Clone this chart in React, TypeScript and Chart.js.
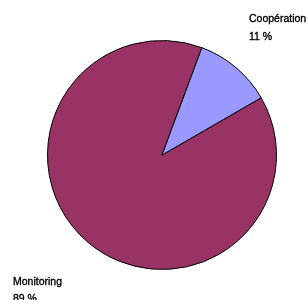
import React, { useEffect, useRef } from "react";
import { Chart, registerables } from "chart.js";

Chart.register(...registerables);

const categories = ["Monitoring", "Coopération"];
const values = [89, 11];
const percentLabels = ["89 %", "11 %"];
const colors = ["#993366", "#9999FF"];

const labelPlugin = {
  id: "sliceLabels",
  afterDraw(chart: any) {
    const ctx = chart.ctx;
    ctx.save();
    ctx.fillStyle = "#000";
    ctx.strokeStyle = "#000";
    ctx.lineWidth = 0.35;
    ctx.font = "10.5px 'Liberation Sans', Arial, sans-serif";
    ctx.textBaseline = "alphabetic";
    ctx.textAlign = "left";
    const draw = (t: string, x: number, y: number) => {
      ctx.fillText(t, x, y);
      ctx.strokeText(t, x, y);
    };
    draw(categories[1], 249, 22);
    draw(percentLabels[1], 249, 40);
    draw(categories[0], 13, 285);
    draw(percentLabels[0], 13, 302);
    ctx.restore();
  },
};

export default function App() {
  const ref = useRef<HTMLCanvasElement>(null);
  useEffect(() => {
    if (!ref.current) return;
    const chart = new Chart(ref.current, {
      type: "pie",
      data: {
        labels: categories,
        datasets: [
          {
            data: values,
            backgroundColor: colors,
            borderColor: "#000",
            borderWidth: 1,
          },
        ],
      },
      options: {
        animation: false,
        responsive: false,
        rotation: 60,
        layout: { padding: { left: 47, right: 31, top: 40, bottom: 30 } },
        plugins: { legend: { display: false }, tooltip: { enabled: false } },
      },
      plugins: [labelPlugin],
    });
    return () => chart.destroy();
  }, []);
  return (
    <div style={{ position: "fixed", left: 0, top: 0, width: 308, height: 300, background: "#fff" }}>
      <canvas ref={ref} width={308} height={300} />
    </div>
  );
}
